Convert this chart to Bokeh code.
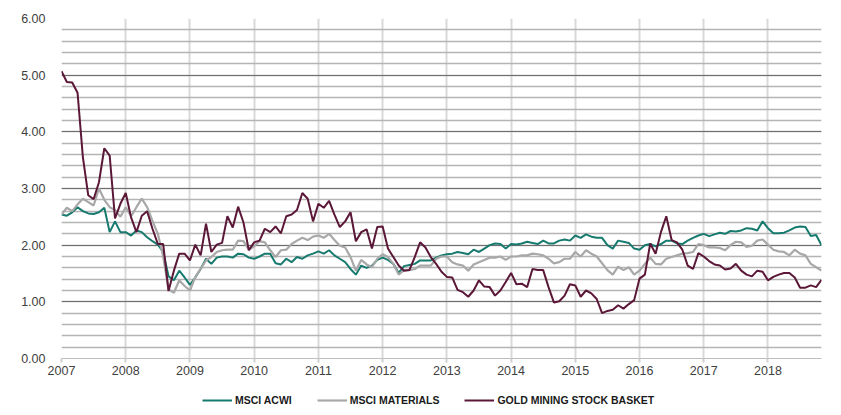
from bokeh.plotting import figure
from bokeh.layouts import column
from bokeh.models import (ColumnDataSource, Legend, LegendItem, FixedTicker,
                          SingleIntervalTicker, NumeralTickFormatter)
from bokeh.embed import file_html
from bokeh.resources import INLINE

# Monthly values, Jan 2007 .. Nov 2018
start_year = 2007
msci_acwi = [
    2.54, 2.52, 2.58, 2.67, 2.60, 2.56, 2.55, 2.58, 2.66, 2.23, 2.42, 2.23,
    2.23, 2.17, 2.26, 2.23, 2.14, 2.07, 2.01, 1.88, 1.45, 1.38, 1.55, 1.43,
    1.30, 1.43, 1.58, 1.76, 1.67, 1.78, 1.80, 1.80, 1.78, 1.85, 1.84, 1.78,
    1.76, 1.80, 1.85, 1.85, 1.68, 1.66, 1.76, 1.70, 1.79, 1.76, 1.82, 1.85,
    1.89, 1.85, 1.91, 1.82, 1.76, 1.70, 1.58, 1.48, 1.64, 1.60, 1.64, 1.74,
    1.78, 1.74, 1.67, 1.51, 1.63, 1.65, 1.67, 1.73, 1.73, 1.73, 1.78, 1.82,
    1.84, 1.85, 1.88, 1.86, 1.84, 1.92, 1.88, 1.94, 2.00, 2.03, 2.02, 1.94,
    2.02, 2.01, 2.03, 2.06, 2.04, 2.02, 2.08, 2.03, 2.03, 2.08, 2.10, 2.08,
    2.17, 2.13, 2.19, 2.15, 2.13, 2.13, 2.00, 1.94, 2.08, 2.06, 2.04, 1.94,
    1.92, 2.00, 2.02, 1.98, 2.02, 2.08, 2.08, 2.03, 2.02, 2.08, 2.13, 2.17,
    2.20, 2.16, 2.19, 2.22, 2.20, 2.25, 2.24, 2.26, 2.30, 2.29, 2.26, 2.42,
    2.30, 2.21, 2.21, 2.22, 2.26, 2.31, 2.33, 2.32, 2.16, 2.18, 2.00,
]
msci_materials = [
    2.54, 2.66, 2.60, 2.72, 2.82, 2.76, 2.70, 3.00, 2.80, 2.67, 2.62, 2.50,
    2.67, 2.51, 2.67, 2.82, 2.67, 2.43, 2.20, 1.80, 1.22, 1.16, 1.38, 1.28,
    1.20, 1.44, 1.58, 1.73, 1.79, 1.88, 1.91, 1.92, 1.92, 2.08, 2.07, 1.92,
    1.98, 2.07, 2.05, 1.91, 1.79, 1.91, 1.92, 2.02, 2.08, 2.13, 2.09, 2.15,
    2.17, 2.13, 2.20, 2.09, 1.99, 1.96, 1.79, 1.55, 1.74, 1.66, 1.61, 1.76,
    1.84, 1.79, 1.67, 1.48, 1.56, 1.56, 1.58, 1.64, 1.64, 1.64, 1.76, 1.80,
    1.80, 1.70, 1.66, 1.64, 1.55, 1.66, 1.70, 1.74, 1.78, 1.78, 1.80, 1.74,
    1.80, 1.80, 1.82, 1.82, 1.85, 1.84, 1.82, 1.76, 1.68, 1.70, 1.76, 1.76,
    1.88, 1.80, 1.91, 1.85, 1.80, 1.68, 1.56, 1.48, 1.62, 1.56, 1.61, 1.48,
    1.55, 1.67, 1.78, 1.67, 1.66, 1.76, 1.79, 1.82, 1.85, 1.86, 1.88, 2.02,
    2.00, 1.96, 1.96, 1.95, 1.91, 2.00, 2.06, 2.05, 1.97, 1.99, 2.08, 2.10,
    2.01, 1.92, 1.89, 1.88, 1.82, 1.92, 1.85, 1.82, 1.67, 1.61, 1.55,
]
gold_basket = [
    5.07, 4.88, 4.87, 4.69, 3.55, 2.88, 2.81, 3.11, 3.71, 3.58, 2.47, 2.73,
    2.92, 2.49, 2.23, 2.52, 2.60, 2.29, 2.02, 2.02, 1.19, 1.55, 1.85, 1.85,
    1.73, 2.01, 1.82, 2.38, 1.88, 2.01, 2.04, 2.51, 2.31, 2.68, 2.40, 1.91,
    2.05, 2.08, 2.29, 2.23, 2.33, 2.21, 2.51, 2.54, 2.62, 2.92, 2.82, 2.42,
    2.73, 2.66, 2.78, 2.54, 2.32, 2.42, 2.58, 2.07, 2.23, 2.28, 1.94, 2.32,
    2.33, 1.94, 1.79, 1.64, 1.55, 1.56, 1.79, 2.05, 1.96, 1.79, 1.67, 1.53,
    1.44, 1.43, 1.21, 1.17, 1.09, 1.20, 1.38, 1.27, 1.26, 1.11, 1.20, 1.35,
    1.51, 1.31, 1.32, 1.26, 1.58, 1.56, 1.56, 1.26, 0.99, 1.01, 1.11, 1.31,
    1.29, 1.09, 1.20, 1.15, 1.05, 0.80, 0.84, 0.86, 0.94, 0.88, 0.96, 1.03,
    1.41, 1.48, 2.03, 1.85, 2.23, 2.51, 2.09, 2.05, 1.92, 1.64, 1.58, 1.86,
    1.80, 1.72, 1.66, 1.64, 1.57, 1.59, 1.67, 1.55, 1.48, 1.45, 1.55, 1.53,
    1.38, 1.44, 1.48, 1.51, 1.51, 1.43, 1.25, 1.25, 1.29, 1.26, 1.39,
]
year_ticks = list(range(2007, 2019))
series_names = ["MSCI ACWI", "MSCI MATERIALS", "GOLD MINING STOCK BASKET"]

teal = "#177a6e"
grey = "#a8a8a8"
maroon = "#5b1737"

n = len(msci_acwi)
t = [start_year + i / 12 for i in range(n)]
src = ColumnDataSource(dict(t=t, acwi=msci_acwi, mat=msci_materials, gold=gold_basket))

p = figure(width=841, height=385,
           x_range=(start_year, start_year + (n - 1) / 12),
           y_range=(0, 6), output_backend="svg", toolbar_location=None,
           min_border_left=61, min_border_right=20, min_border_top=18, min_border_bottom=27)
p.outline_line_color = None
p.background_fill_color = "white"

# grids
p.xaxis.ticker = FixedTicker(ticks=year_ticks)
p.yaxis.ticker = SingleIntervalTicker(interval=1, num_minor_ticks=5)
p.xgrid.grid_line_color = "#d9d9d9"
p.xgrid.grid_line_width = 2
p.ygrid.grid_line_color = "#6e6e6e"
p.ygrid.grid_line_width = 1.2
p.ygrid.minor_grid_line_color = "#b4b4b4"
p.ygrid.minor_grid_line_width = 1.5

# axes
p.yaxis.axis_line_color = None
p.yaxis.major_tick_line_color = None
p.yaxis.minor_tick_line_color = None
p.yaxis.major_label_standoff = 10
p.yaxis.formatter = NumeralTickFormatter(format="0.00")
p.xaxis.axis_line_color = "#bdbdbd"
p.xaxis.major_tick_line_color = "#cfcfcf"
p.xaxis.major_tick_line_width = 2
p.xaxis.major_tick_out = 4
p.xaxis.major_tick_in = 0
p.xaxis.minor_tick_line_color = None
p.xaxis.major_label_standoff = 3
for ax in (p.xaxis, p.yaxis):
    ax.major_label_text_font = "Liberation Sans"
    ax.major_label_text_font_size = "12.5px"
    ax.major_label_text_color = "#404040"

r1 = p.line("t", "acwi", source=src, line_color=teal, line_width=2)
r2 = p.line("t", "mat", source=src, line_color=grey, line_width=2.2)
r3 = p.line("t", "gold", source=src, line_color=maroon, line_width=2)

# legend strip below the chart (its lines fall outside its own ranges; only swatches show)
lg = figure(width=841, height=30, x_range=(0, 1), y_range=(0, 1),
            output_backend="svg", toolbar_location=None,
            x_axis_type=None, y_axis_type=None,
            min_border_left=61, min_border_right=20, min_border_top=0, min_border_bottom=0)
lg.outline_line_color = None
lg.grid.visible = False
l1 = lg.line("t", "acwi", source=src, line_color=teal, line_width=2)
l2 = lg.line("t", "mat", source=src, line_color=grey, line_width=2.2)
l3 = lg.line("t", "gold", source=src, line_color=maroon, line_width=2)

legend = Legend(items=[LegendItem(label=series_names[0], renderers=[l1]),
                       LegendItem(label=series_names[1], renderers=[l2]),
                       LegendItem(label=series_names[2], renderers=[l3])],
                orientation="horizontal", location=(141, 8),
                glyph_width=30, glyph_height=14, label_height=14, label_standoff=3,
                spacing=25, padding=0, margin=0,
                background_fill_alpha=0, border_line_color=None,
                label_text_font="Liberation Sans", label_text_font_style="bold",
                label_text_font_size="10.5px", label_text_color="#1a1a1a")
lg.add_layout(legend, "center")

layout = column(p, lg, spacing=0)
open("out.html", "w").write(file_html(layout, INLINE))
